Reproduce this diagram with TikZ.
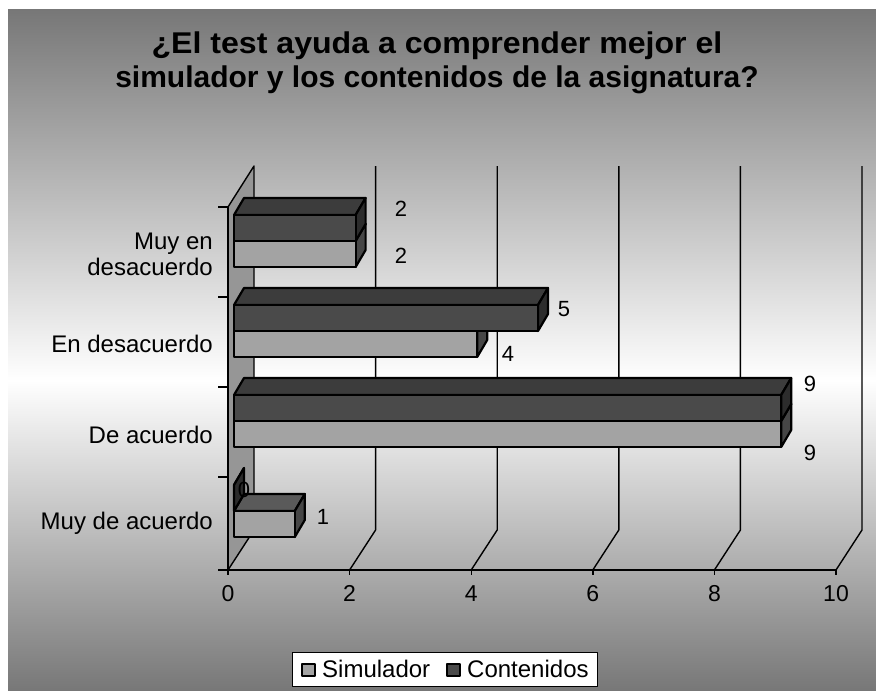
\documentclass[tikz,border=0pt]{standalone}
\usepackage{fontspec}
\setmainfont{Liberation Sans}
\definecolor{bgdark}{RGB}{119,119,119}
\definecolor{wall}{RGB}{150,150,150}
\definecolor{contF}{RGB}{74,74,74}
\definecolor{contT}{RGB}{60,60,60}
\definecolor{contS}{RGB}{44,44,44}
\definecolor{simF}{RGB}{163,163,163}
\definecolor{simT}{RGB}{90,90,90}
\definecolor{simS}{RGB}{70,70,70}
\tikzset{
  barline/.style={draw=black, line width=2.2pt, line join=round},
  gridline/.style={draw=black, line width=1.4pt},
  axisline/.style={draw=black, line width=1.4pt},
  cat/.style={font=\fontsize{24}{26}\selectfont, align=right, anchor=east, inner sep=0pt},
  val/.style={font=\fontsize{22}{24}\selectfont, inner sep=0pt, anchor=base},
  tick/.style={font=\fontsize{23}{25}\selectfont, inner sep=0pt, anchor=base},
  legtext/.style={font=\fontsize{24}{26}\selectfont, anchor=west, inner sep=0pt},
  titletext/.style={font=\bfseries\fontsize{30}{35}\selectfont, inner sep=0pt}
}
% #1 value, #2 y of front-face top, #3 front, #4 top, #5 side colour
\newcommand\mybar[5]{%
  \filldraw[barline, fill=#4] (234,#2) -- (244,#2-17) -- ({244+60.8*#1},#2-17) -- ({234+60.8*#1},#2) -- cycle;
  \filldraw[barline, fill=#5] ({234+60.8*#1},#2) -- ({244+60.8*#1},#2-17) -- ({244+60.8*#1},#2+9) -- ({234+60.8*#1},#2+26) -- cycle;
  \filldraw[barline, fill=#3] (234,#2) rectangle ({234+60.8*#1},#2+26);
}
\begin{document}
\begin{tikzpicture}[x=1pt,y=-1pt,line join=round]
\useasboundingbox (0,0) rectangle (876,691);
\fill[white] (0,0) rectangle (876,691);
\shade[top color=bgdark, bottom color=white] (8,9) rectangle (876,381);
\shade[top color=white, bottom color=bgdark] (8,380) rectangle (876,691);

% title
\node[titletext] (title1) at (437,46) {\scalebox{1.07}[1]{¿El test ayuda a comprender mejor el}};
\node[titletext] (title2) at (437,80) {simulador y los contenidos de la asignatura?};

% left wall
\fill[wall] (228,570) -- (228,207) -- (254,166) -- (254,530) -- cycle;
\draw[axisline] (228,207) -- (254,166) -- (254,530);

% floor diagonals and back gridlines
\draw[gridline] (228,570) -- (254,530);
\foreach \k in {2,4,6,8,10}
  \draw[gridline] ({254+60.8*\k},166) -- ({254+60.8*\k},530) -- ({228+60.8*\k},570);

% axes
\draw[axisline] (218,570) -- (836,570);
\draw[axisline] (228,207) -- (228,570);
\foreach \yy in {207,297,387,477}
  \draw[axisline] (218,\yy) -- (228,\yy);
\foreach \k in {0,2,4,6,8,10}
  \draw[axisline] ({228+60.8*\k},570) -- ({228+60.8*\k},575);

% tick labels
\node[tick] (t0) at (228,601) {0};
\node[tick] (t2) at (349.6,601) {2};
\node[tick] (t4) at (471.2,601) {4};
\node[tick] (t6) at (592.8,601) {6};
\node[tick] (t8) at (714.4,601) {8};
\node[tick] (t10) at (836,601) {10};

% category labels
\node[cat] (c1) at (213,254) {Muy en\\desacuerdo};
\node[cat] (c2) at (213,344) {En desacuerdo};
\node[cat] (c3) at (213,435) {De acuerdo};
\node[cat] (c4) at (213,523) {Muy de acuerdo};

% bars: simulador first, then contenidos above it
\mybar{2}{241}{simF}{simT}{simS}
\mybar{2}{215}{contF}{contT}{contS}
\mybar{4}{331}{simF}{simT}{simS}
\mybar{5}{305}{contF}{contT}{contS}
\mybar{9}{421}{simF}{simT}{simS}
\mybar{9}{395}{contF}{contT}{contS}
\mybar{1}{511}{simF}{simT}{simS}
\mybar{0}{485}{contF}{contT}{contS}

% value labels
\node[val] (v1c) at (401,216) {2};
\node[val] (v1s) at (401,263) {2};
\node[val] (v2c) at (564,316) {5};
\node[val] (v2s) at (508,361) {4};
\node[val] (v3c) at (810,391) {9};
\node[val] (v3s) at (810,460) {9};
\node[val] (v4c) at (244,497) {0};
\node[val] (v4s) at (323,524) {1};

% legend
\draw[line width=1pt, fill=white] (292,652) rectangle (597,686);
\draw[line width=2.5pt, fill=simF] (302,664) rectangle (315,676);
\node[legtext] (ls) at (322,669) {Simulador};
\draw[line width=2.5pt, fill=contF] (447,664) rectangle (460,676);
\node[legtext] (lc) at (467,669) {Contenidos};
\end{tikzpicture}
\end{document}
